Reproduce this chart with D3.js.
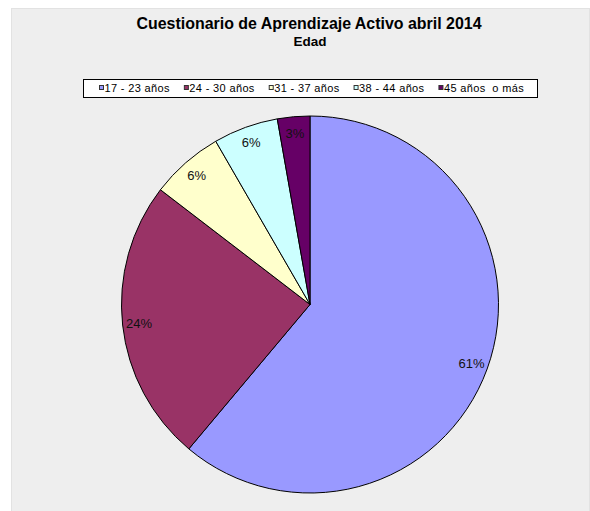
<!DOCTYPE html>
<html>
<head>
<meta charset="utf-8">
<script src="https://cdn.jsdelivr.net/npm/d3@7"></script>
<style>
  body { margin: 0; background: #fff; }
  svg text { font-family: Arial, "Liberation Sans", sans-serif; }
</style>
</head>
<body>
<div id="chart"></div>
<script>
'use strict';

// categories and counts (respondents per age group)
var categories = ['17 - 23 años', '24 - 30 años', '31 - 37 años', '38 - 44 años', '45 años  o más'];
var counts = [88, 35, 9, 8, 4];
var colors = ['#9999ff', '#993366', '#ffffcc', '#ccffff', '#660066'];

var width = 590, height = 511;

var svg = d3.select('#chart').append('svg')
    .attr('width', width)
    .attr('height', height);

// chart area background
svg.append('rect')
    .attr('x', 11.5).attr('y', 8.5)
    .attr('width', 578).attr('height', 503)
    .attr('fill', '#eeeeee')
    .attr('stroke', '#e2e2e2');

// titles
svg.append('text')
    .attr('x', 309).attr('y', 29)
    .attr('text-anchor', 'middle')
    .attr('font-size', 16.5).attr('font-weight', 'bold')
    .attr('textLength', 345).attr('lengthAdjust', 'spacingAndGlyphs')
    .text('Cuestionario de Aprendizaje Activo abril 2014');
svg.append('text')
    .attr('x', 310).attr('y', 46)
    .attr('text-anchor', 'middle')
    .attr('font-size', 13.5).attr('font-weight', 'bold')
    .text('Edad');

// legend
var legendG = svg.append('g').attr('class', 'legend');
legendG.append('rect')
    .attr('x', 83.5).attr('y', 79.5)
    .attr('width', 454).attr('height', 18)
    .attr('fill', '#fff')
    .attr('stroke', '#000');

var lx = 99;
categories.forEach(function (c, i) {
    legendG.append('rect')
        .attr('x', lx + 0.5).attr('y', 85.5)
        .attr('width', 4).attr('height', 4)
        .attr('fill', colors[i])
        .attr('stroke', '#333');
    var t = legendG.append('text')
        .attr('x', lx + 5.5).attr('y', 92)
        .attr('font-size', 11)
        .attr('letter-spacing', 0.35)
        .style('white-space', 'pre')
        .text(c);
    lx = lx + 5.5 + t.node().getComputedTextLength() + 14;
});

// pie
var cx = 310, cy = 304.5, r = 188.5;
var total = d3.sum(counts);

var pie = d3.pie().sort(null).value(function (d) { return d; });
var arc = d3.arc().innerRadius(0).outerRadius(r);
var labelArc = d3.arc().innerRadius(172).outerRadius(172);

var pieG = svg.append('g').attr('transform', 'translate(' + cx + ',' + cy + ')');
var arcs = pie(counts);

pieG.selectAll('path')
    .data(arcs)
    .enter().append('path')
    .attr('d', arc)
    .attr('fill', function (d, i) { return colors[i]; })
    .attr('stroke', '#000')
    .attr('stroke-width', 1);

pieG.selectAll('text.lbl')
    .data(arcs)
    .enter().append('text')
    .attr('class', 'lbl')
    .attr('transform', function (d) { return 'translate(' + labelArc.centroid(d) + ')'; })
    .attr('text-anchor', 'middle')
    .attr('dy', '0.35em')
    .attr('font-size', 13)
    .attr('fill', '#111')
    .text(function (d) { return Math.round(d.value / total * 100) + '%'; });
</script>
</body>
</html>
